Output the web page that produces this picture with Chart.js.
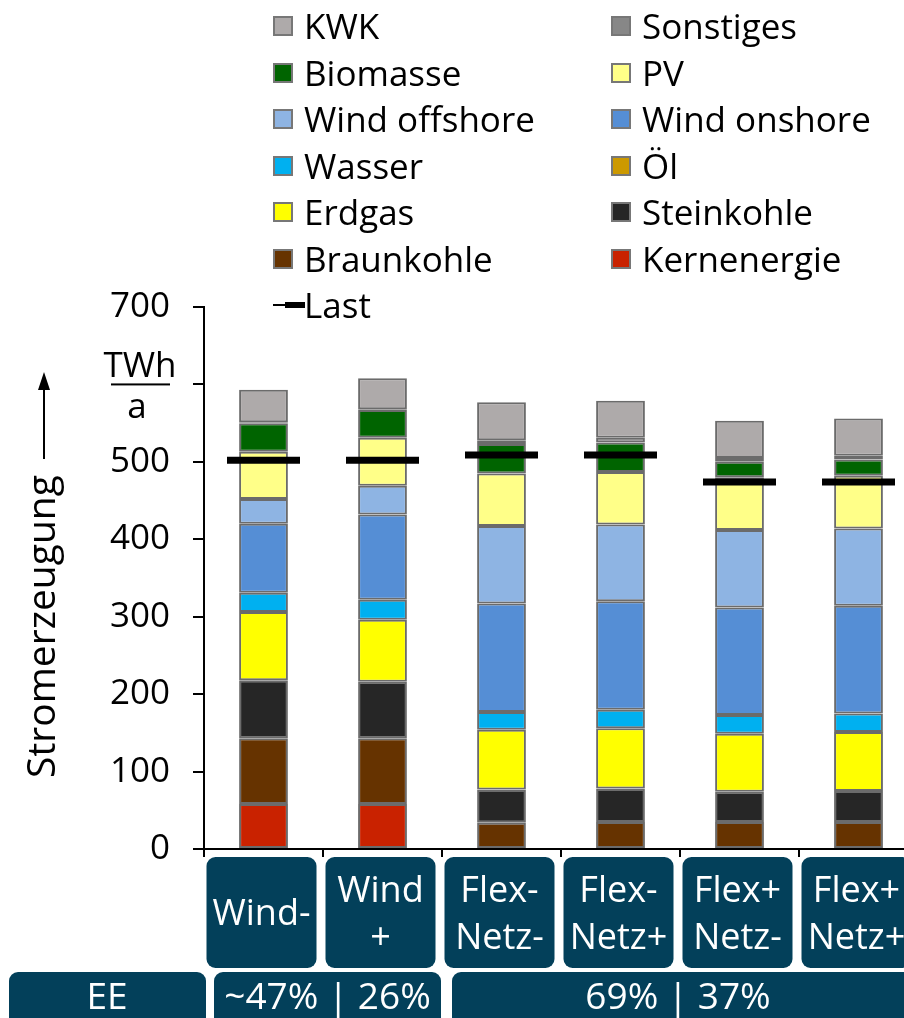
<!DOCTYPE html>
<html>
<head>
<meta charset="utf-8">
<title>Stromerzeugung</title>
<script src="https://cdn.jsdelivr.net/npm/chart.js@4.4.0/dist/chart.umd.min.js"></script>
<style>
  body { margin: 0; background: #fff; overflow: hidden; }
  #wrap { position: relative; width: 904px; height: 1018px; overflow: hidden; }
  #chart { position: absolute; left: 0; top: 0; }
  #legend { position: absolute; left: 0; top: 0; font-family: "Open Sans", sans-serif; font-size: 35px; color: #000; }
  .item { position: absolute; height: 46px; line-height: 46px; white-space: nowrap; }
  .swatch { position: absolute; left: 0; top: 13px; width: 16px; height: 16px; border: 2px solid #777; }
  .label { position: absolute; left: 31px; top: 0; }
  .thin { position: absolute; left: 0; top: 22px; width: 14px; height: 2px; background: #000; }
  .thick { position: absolute; left: 12px; top: 20px; width: 20px; height: 6px; background: #000; }
</style>
</head>
<body>
<div id="wrap">
  <canvas id="chart" width="918" height="1018"></canvas>
  <div id="legend"></div>
</div>
<script>
// categories (scenarios) and the renewable share row below them
var categories = [['Wind-'], ['Wind', '+'], ['Flex-', 'Netz-'], ['Flex-', 'Netz+'], ['Flex+', 'Netz-'], ['Flex+', 'Netz+']];
var eeLabel = 'EE';
var eeGroups = [['~47% | 26%', 0, 1], ['69% | 37%', 2, 5]];

// y axis
var yTicks = [0, 100, 200, 300, 400, 500, 600, 700];
var yTitle = 'Stromerzeugung';
var unitTick = 600;
var unitTop = 'TWh';
var unitBottom = 'a';

// generation in TWh, stacked bottom to top
var kernenergie = [58, 58, 0, 0, 0, 0];
var braunkohle = [85, 85, 34, 35, 35, 35];
var steinkohle = [75, 73, 43, 43, 39, 40];
var erdgas = [88, 80, 77, 78, 75, 76];
var oel = [0, 0, 0, 0, 0, 0];
var wasser = [25, 26, 23, 24, 24, 24];
var windOnshore = [89, 110, 140, 140, 139, 139];
var windOffshore = [32, 37, 100, 99, 100, 100];
var pv = [61, 62, 68, 68, 68, 68];
var biomasse = [37, 36, 38, 38, 20, 21];
var sonstiges = [1, 1, 5, 6, 5, 5];
var kwk = [42, 40, 49, 48, 48, 48];

// load in TWh
var last = [502, 502, 509, 509, 474, 474];

function bar(label, data, color) {
    return {
        type: 'bar',
        label: label,
        data: data,
        backgroundColor: color,
        borderColor: '#6b6b6b',
        borderWidth: 2,
        borderSkipped: false,
        barPercentage: 0.41,
        categoryPercentage: 1,
        order: 1
    };
}

function roundRect(ctx, x, y, w, h, r) {
    ctx.beginPath();
    ctx.moveTo(x + r, y);
    ctx.arcTo(x + w, y, x + w, y + h, r);
    ctx.arcTo(x + w, y + h, x, y + h, r);
    ctx.arcTo(x, y + h, x, y, r);
    ctx.arcTo(x, y, x + w, y, r);
    ctx.closePath();
    ctx.fill();
}

var boxColor = '#03405a';

// axis title, unit and the scenario boxes under the x axis
var decorations = {
    id: 'decorations',
    afterDraw: function (chart) {
        var ctx = chart.ctx;
        var xs = chart.scales.x;
        var ys = chart.scales.y;
        var area = chart.chartArea;
        ctx.save();

        // unit as a fraction at the 600 tick
        var uy = ys.getPixelForValue(unitTick);
        ctx.fillStyle = '#000';
        ctx.font = '35px "Open Sans"';
        ctx.textAlign = 'center';
        ctx.textBaseline = 'alphabetic';
        ctx.fillText(unitTop, 140, uy - 7);
        ctx.fillText(unitBottom, 137, uy + 34);
        ctx.fillRect(111, uy - 1, 59, 2);

        // rotated y title with arrow
        ctx.save();
        ctx.translate(55, 778);
        ctx.rotate(-Math.PI / 2);
        ctx.font = '39px "Open Sans"';
        ctx.textAlign = 'left';
        ctx.fillText(yTitle, 0, 0);
        ctx.restore();
        ctx.fillRect(43, 386, 2, 73);
        ctx.beginPath();
        ctx.moveTo(44, 372);
        ctx.lineTo(38, 390);
        ctx.lineTo(50, 390);
        ctx.closePath();
        ctx.fill();

        // scenario boxes
        var half = (xs.getPixelForValue(1) - xs.getPixelForValue(0)) / 2;
        ctx.font = '36px "Open Sans"';
        ctx.textBaseline = 'middle';
        categories.forEach(function (lines, i) {
            var cx = xs.getPixelForValue(i);
            ctx.fillStyle = boxColor;
            roundRect(ctx, cx - 57, area.bottom + 8, 110, 111, 9);
            ctx.fillStyle = '#fff';
            lines.forEach(function (line, j) {
                var ly = area.bottom + 66 + (j - (lines.length - 1) / 2) * 46.5;
                ctx.fillText(line, cx - 2, ly);
            });
        });

        // renewable share row
        ctx.font = '37px "Open Sans"';
        ctx.fillStyle = boxColor;
        roundRect(ctx, 9, 972, area.left - 7, 80, 9);
        ctx.fillStyle = '#fff';
        ctx.fillText(eeLabel, 107, 998);
        eeGroups.forEach(function (g) {
            var left = xs.getPixelForValue(g[1]) - half + 10;
            var right = xs.getPixelForValue(g[2]) + half - 1;
            ctx.fillStyle = boxColor;
            roundRect(ctx, left, 972, right - left, 80, 9);
            ctx.fillStyle = '#fff';
            ctx.fillText(g[0], (left + Math.min(right, 904)) / 2, 998);
        });
        ctx.restore();
    }
};

function start() {
    var ctx = document.getElementById('chart');
    var chart = new Chart(ctx, {
        // The data for our dataset
        data: {
            labels: categories,
            datasets: [
                bar('Kernenergie', kernenergie, '#c92200'),
                bar('Braunkohle', braunkohle, '#663300'),
                bar('Steinkohle', steinkohle, '#262626'),
                bar('Erdgas', erdgas, '#ffff00'),
                bar('Öl', oel, '#cc9900'),
                bar('Wasser', wasser, '#00b0f0'),
                bar('Wind onshore', windOnshore, '#558ed5'),
                bar('Wind offshore', windOffshore, '#8eb4e3'),
                bar('PV', pv, '#ffff88'),
                bar('Biomasse', biomasse, '#006400'),
                bar('Sonstiges', sonstiges, '#878787'),
                bar('KWK', kwk, '#aeaaaa'),
                {
                    type: 'line',
                    label: 'Last',
                    data: last,
                    stack: 'last',
                    showLine: false,
                    pointStyle: 'line',
                    pointRadius: 36.5,
                    pointBorderWidth: 7,
                    borderColor: '#000',
                    backgroundColor: '#000',
                    order: 0
                }
            ]
        },

        // Configuration options go here
        options: {
            responsive: false,
            animation: false,
            events: [],
            layout: { autoPadding: false, padding: { top: 307, left: 0, right: 0, bottom: 0 } },
            plugins: {
                legend: { display: false },
                tooltip: { enabled: false }
            },
            scales: {
                x: {
                    stacked: true,
                    offset: true,
                    ticks: { display: false },
                    grid: { offset: true, drawOnChartArea: false, drawTicks: true, tickLength: 8, color: '#000', lineWidth: 2 },
                    border: { display: true, color: '#000', width: 2 },
                    afterFit: function (scale) { scale.height = 169; }
                },
                y: {
                    stacked: true,
                    min: 0,
                    max: 700,
                    afterBuildTicks: function (scale) {
                        scale.ticks = yTicks.map(function (v) { return { value: v }; });
                    },
                    ticks: {
                        autoSkip: false,
                        padding: 23,
                        color: '#000',
                        font: { family: 'Open Sans', size: 35 },
                        callback: function (v) { return v === unitTick ? '' : String(v); }
                    },
                    grid: { drawOnChartArea: false, drawTicks: true, tickLength: 11, color: '#000', lineWidth: 2 },
                    border: { display: true, color: '#000', width: 2 },
                    afterFit: function (scale) { scale.width = 204; }
                }
            }
        },
        plugins: [decorations]
    });

    // legend in two columns, reverse of the stacking order
    var legend = document.getElementById('legend');
    var items = chart.data.datasets.slice(0, 12).reverse();
    items.push(chart.data.datasets[12]);
    items.forEach(function (ds, i) {
        var row = Math.floor(i / 2);
        var col = i % 2;
        var div = document.createElement('div');
        div.className = 'item';
        div.style.left = (col === 0 ? 273 : 611) + 'px';
        div.style.top = (3 + row * 46.5) + 'px';
        if (ds.type === 'line') {
            div.innerHTML = '<div class="thin"></div><div class="thick"></div>';
        } else {
            div.innerHTML = '<div class="swatch" style="background:' + ds.backgroundColor + '"></div>';
        }
        var text = document.createElement('div');
        text.className = 'label';
        text.textContent = ds.label;
        div.appendChild(text);
        legend.appendChild(div);
    });
}

document.fonts.load('35px "Open Sans"').then(start, start);
</script>
</body>
</html>
